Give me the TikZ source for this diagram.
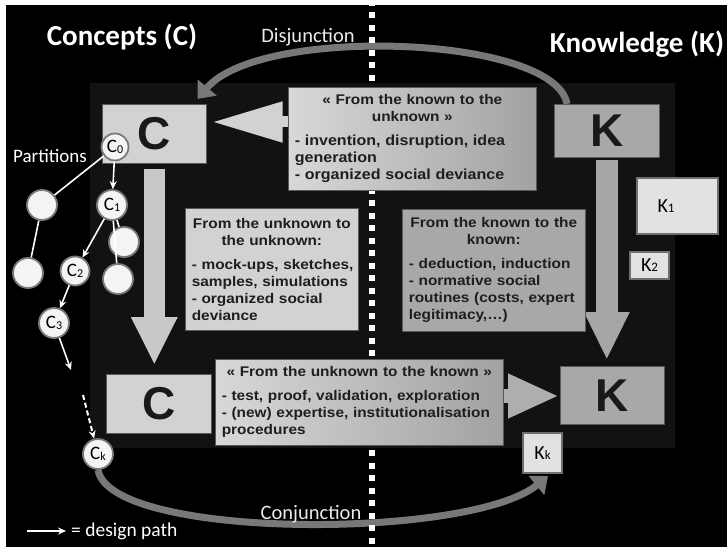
\documentclass[tikz,border=0pt]{standalone}
\usepackage{fontspec}
\setmainfont{Liberation Sans}
\newfontfamily\calfont{Carlito}
\newfontfamily\boxfont[FakeStretch=1.1]{Liberation Sans}
\usetikzlibrary{arrows.meta,calc}
\definecolor{panelc}{HTML}{121212}
\definecolor{lightbox}{HTML}{D2D2D2}
\definecolor{midbox}{HTML}{A8A8A8}
\definecolor{gradL}{HTML}{D8D8D8}
\definecolor{gradR}{HTML}{A2A2A2}
\definecolor{txtc}{HTML}{1E1E1E}
\definecolor{circfill}{HTML}{F4F4F4}
\definecolor{circdraw}{HTML}{7A7A7A}
\definecolor{kfill}{HTML}{E2E2E2}
\definecolor{kdraw}{HTML}{6E6E6E}
\definecolor{arcc}{HTML}{787878}
\definecolor{labc}{HTML}{EAEAEA}
\definecolor{arrL}{HTML}{C8C8C8}
\definecolor{arrR}{HTML}{A6A6A6}
\definecolor{arrB}{HTML}{AEAEAE}
\pgfdeclarelayer{bg}
\pgfdeclarelayer{mid}
\pgfsetlayers{bg,mid,main}
\begin{document}
\begin{tikzpicture}[x=1pt,y=-1pt,
  bigbox/.style={rectangle, draw=gray!70!black, line width=0.6pt, inner sep=0pt, anchor=north west, font=\bfseries\fontsize{46}{46}\selectfont, text=black!90},
  textbox/.style={rectangle, draw=gray!70!black, line width=0.6pt, inner xsep=6pt, inner ysep=0pt, anchor=north west, align=left, text=txtc, font=\boxfont\bfseries\fontsize{14}{17}\selectfont},
  circ/.style={circle, fill=circfill, draw=circdraw, line width=1.8pt, inner sep=0pt, minimum size=30pt, font=\calfont\fontsize{19}{19}\selectfont},
  kb/.style={rectangle, fill=kfill, draw=kdraw, line width=2pt, inner sep=0pt, anchor=north west, font=\calfont\fontsize{20}{20}\selectfont},
  tline/.style={white, line width=1.6pt},
  tarrow/.style={white, line width=1.6pt, -{Stealth[length=8pt,width=7pt]}},
  titletext/.style={text=white, font=\calfont\bfseries\fontsize{29}{29}\selectfont, inner sep=0pt},
  lab/.style={text=labc, font=\calfont\fontsize{20.5}{20.5}\selectfont, inner sep=0pt},
  bendarrow/.style={arcc, line width=7pt, -{Triangle[width=24pt,length=15pt]}},
]
\useasboundingbox (0,0) rectangle (727,548);
\begin{pgfonlayer}{bg}
\fill[white] (0,0) rectangle (727,548);
\fill[black] (6,5) rectangle (727,547);
\fill[panelc] (90,83) rectangle (675,448);
\end{pgfonlayer}

% titles and labels
\node[titletext] (concepts) at (122,37) {Concepts (C)};
\node[titletext] (knowledge) at (637,44) {Knowledge (K)};
\node[lab] (disj) at (308,37) {Disjunction};
\node[lab] (conj) at (311,514) {Conjunction};
\node[lab, text=white, font=\calfont\fontsize{19}{19}\selectfont] (parts) at (50,156) {Partitions};
\node[lab, text=white, anchor=west, font=\calfont\fontsize{19.5}{19.5}\selectfont] (legend) at (71,531) {= design path};
\coordinate (lg1) at (27,531);
\coordinate (lg2) at (66,531);
\draw[tarrow] (lg1) -- (lg2);

% main boxes
\node[bigbox, fill=lightbox, minimum width=104pt, minimum height=59pt] (Ctop) at (102,104) {C};
\node[bigbox, fill=midbox, minimum width=105pt, minimum height=53pt] (Ktop) at (554,104) {K};
\node[bigbox, fill=lightbox, minimum width=105pt, minimum height=59pt] (Cbot) at (106,374) {C};
\node[bigbox, fill=midbox, minimum width=104pt, minimum height=58pt] (Kbot) at (560,366) {K};

% text boxes
\node[textbox, minimum width=248pt, minimum height=103pt, text width=235pt, left color=gradL, right color=gradR] (toptext) at (288,87)
 {{\centering \mbox{« From the known to the}\\\mbox{unknown »}\par}\vspace{7pt}{\fontsize{14.6}{17}\selectfont\mbox{- invention, disruption, idea}\\\mbox{generation}\\\mbox{- organized social deviance}}};
\node[textbox, fill=lightbox, minimum width=173pt, minimum height=122pt, text width=160pt] (midL) at (185,208)
 {{\centering \mbox{From the unknown to}\\\mbox{the unknown:}\par}\vspace{7pt}\mbox{- mock-ups, sketches,}\\\mbox{samples, simulations}\\\mbox{- organized social}\\\mbox{deviance}};
\node[textbox, fill=midbox, minimum width=183pt, minimum height=122pt, text width=170pt] (midR) at (402,209)
 {{\centering \mbox{From the known to the}\\\mbox{known:}\par}\vspace{7pt}\mbox{- deduction, induction}\\\mbox{- normative social}\\\mbox{routines (costs, expert}\\\mbox{legitimacy,…)}};
\node[textbox, minimum width=288pt, minimum height=86pt, text width=275pt, left color=gradL, right color=gradR] (bottext) at (215,359)
 {{\centering \mbox{« From the unknown to the known »}\par}\vspace{7pt}\mbox{- test, proof, validation, exploration}\\\mbox{- (new) expertise, institutionalisation}\\\mbox{procedures}};

% K partition boxes
\node[kb, minimum width=81pt, minimum height=56pt] (K1) at (636,177) {};
\node[font=\calfont\fontsize{20}{20}\selectfont, inner sep=0pt] (K1l) at (666,206) {K{\fontsize{13}{13}\selectfont 1}};
\node[kb, minimum width=39pt, minimum height=27pt] (K2) at (629,251) {K{\fontsize{13}{13}\selectfont 2}};
\node[kb, minimum width=39pt, minimum height=40pt] (Kk) at (522,432) {K{\fontsize{13}{13}\selectfont k}};

% tree of concepts
\node[circ, minimum size=27pt] (c0) at (115,147) {C{\fontsize{12}{12}\selectfont\raisebox{-1pt}{0}}};
\node[circ] (e1) at (42,205) {};
\node[circ] (c1) at (112,205) {C{\fontsize{12}{12}\selectfont\raisebox{-1pt}{1}}};
\node[circ] (e2) at (124,242) {};
\node[circ] (e3) at (118,279) {};
\node[circ] (e4) at (28,273) {};
\node[circ, minimum size=29pt] (c2) at (75,271) {C{\fontsize{12}{12}\selectfont\raisebox{-1pt}{2}}};
\node[circ] (c3) at (54,323) {C{\fontsize{12}{12}\selectfont\raisebox{-1pt}{3}}};
\node[circ] (ck) at (98,454) {C{\fontsize{12}{12}\selectfont\raisebox{-1pt}{k}}};
\coordinate (c3end) at (71,370);
\coordinate (ckstart) at (83,395);

\draw[tline] (c0) -- (e1);
\draw[tarrow] (c0) -- (c1);
\draw[tline] (e1) -- (e4);
\draw[tline] (c1) -- (e2);
\draw[tline] (c1) -- (e3);
\draw[tarrow] (c1) -- (c2);
\draw[tarrow] (c2) -- (c3);
\draw[tarrow] (c3) -- (c3end);
\draw[tarrow, line width=2pt, dash pattern=on 5pt off 3pt] (ckstart) -- (ck);

% arrows on middle layer
\coordinate (ya) at (0,122);
\coordinate (yb) at (0,396);
\begin{pgfonlayer}{mid}
\draw[bendarrow] ([xshift=13pt]Ktop.north west) .. controls (555,35) and (260,25) .. ([xshift=-9pt,yshift=5pt]Ctop.north east);
\draw[bendarrow] (ck.south) .. controls (110,540) and (470,540) .. ([xshift=26pt,yshift=-2pt]Kk.south west);
\draw[white, line width=6pt, dash pattern=on 6pt off 6.5pt] (372,0) -- (372,548);
\draw[arrL, line width=21pt, -{Triangle[width=43pt,length=48pt]}] ([yshift=-5pt]Ctop.south) -- ([yshift=9pt]Ctop.south |- Cbot.north);
\draw[arrR, line width=22pt, -{Triangle[width=42pt,length=48pt]}] ([yshift=-2pt]Ktop.south) -- ([yshift=6pt]Ktop.south |- Kbot.north);
\draw[lightbox, line width=11pt, -{Triangle[width=38pt,length=71pt]}] ([xshift=4pt]toptext.west |- ya) -- ([xshift=5pt]Ctop.east |- ya);
\draw[arrB, line width=14pt, -{Triangle[width=41pt,length=51pt]}] ([xshift=-4pt]bottext.east |- yb) -- ([xshift=-1pt]Kbot.west |- yb);
\end{pgfonlayer}
\end{tikzpicture}
\end{document}
